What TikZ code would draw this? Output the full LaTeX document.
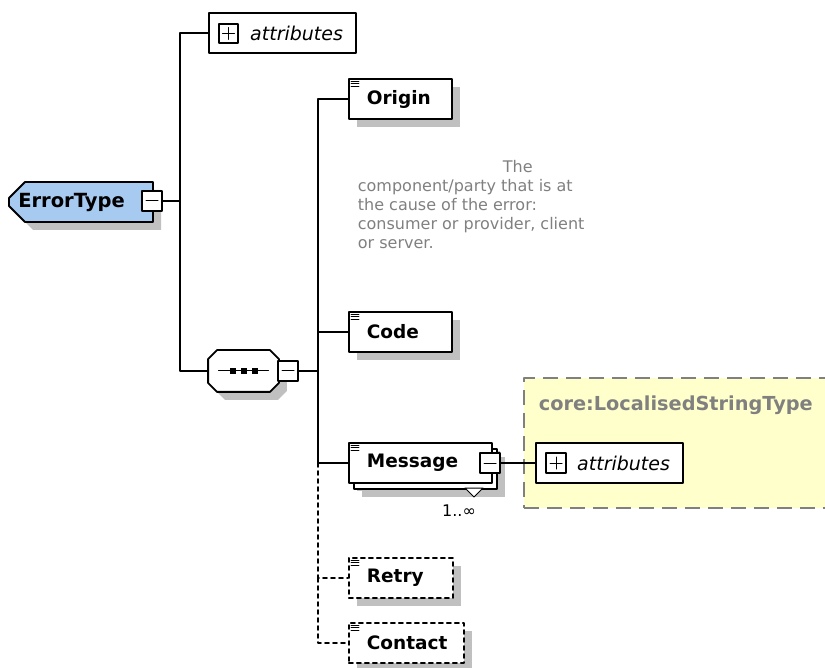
\documentclass[tikz,border=0pt]{standalone}
\usepackage{fontspec}
\setmainfont{DejaVu Sans}
\usetikzlibrary{shapes.misc,shadows}
\definecolor{typeblue}{RGB}{166,202,240}
\definecolor{shadegray}{RGB}{192,192,192}
\definecolor{noteyellow}{RGB}{255,255,204}
\definecolor{notegray}{RGB}{128,128,128}
\newcommand{\docmark}[1]{\draw [line width=0.8pt] ([shift={(3,3)}]#1.north west) -- ++(8,0) ([shift={(3,5.5)}]#1.north west) -- ++(8,0) ([shift={(3,8)}]#1.north west) -- ++(8,0);}

\begin{document}
\begin{tikzpicture}[line cap=round,line join=round,x=1pt,y=-1pt,line width=1.8pt,
	boxshadow/.style={drop shadow={shadow xshift=8pt,shadow yshift=-8pt,fill=shadegray,opacity=1}},
	elem/.style={draw,fill=white,boxshadow,anchor=west,minimum height=40pt,inner xsep=18pt,inner ysep=0pt,align=left,font=\fontsize{18.5}{22}\selectfont\bfseries},
	optelem/.style={elem,dash pattern=on 4pt off 4pt},
	attrbox/.style={draw,fill=white,minimum width=147pt,minimum height=40pt,inner xsep=13pt,inner ysep=0pt,text width=121pt,align=right,font=\fontsize{19}{22}\selectfont\itshape},
	minusbox/.style={draw,fill=white,minimum size=20pt,inner sep=0pt,path picture={\draw [line width=1pt] ([xshift=-6pt]path picture bounding box.center) -- ([xshift=6pt]path picture bounding box.center);}},
	plusbox/.style={minusbox,path picture={\draw [line width=1pt] ([xshift=-6pt]path picture bounding box.center) -- ([xshift=6pt]path picture bounding box.center) ([yshift=-6pt]path picture bounding box.center) -- ([yshift=6pt]path picture bounding box.center);}}]
	\useasboundingbox (0,0) rectangle (825,668);
	\node [draw=notegray,fill=noteyellow,dash pattern=on 15pt off 8pt,line cap=butt,minimum width=320pt,minimum height=130pt,anchor=north west,inner sep=0pt] (ctype) at (523,377) {};
	\node [anchor=west,inner sep=0pt,text=notegray,font=\fontsize{19.3}{22}\selectfont\bfseries] (ctitle) at (538,405) {core:LocalisedStringType};
	\node [chamfered rectangle,chamfered rectangle corners={north west,south west},chamfered rectangle sep=8pt,draw,fill=typeblue,boxshadow,minimum width=144pt,minimum height=40pt,inner sep=0pt,font=\fontsize{19.5}{22}\selectfont\bfseries] (errortype) at (81,202) {ErrorType\kern19pt};
	\node [minusbox] (etminus) at (152,201) {};
	\coordinate (hubA) at (180,201);
	\node [attrbox] (attrA) at (282.5,33) {attributes};
	\node [plusbox,minimum size=19pt] (attrAplus) at (228.5,33.5) {};
	\node [minimum width=69pt,minimum height=40pt,inner sep=0pt] (seq) at (243.5,371) {};
	\filldraw [fill=white,boxshadow] ([shift={(9,0)}]seq.north west) -- ([shift={(-9,0)}]seq.north east) -- ([shift={(0,9)}]seq.north east) -- ([shift={(0,-9)}]seq.south east)
		-- ([shift={(-9,0)}]seq.south east) -- ([shift={(9,0)}]seq.south west) -- ([shift={(0,-9)}]seq.south west) -- ([shift={(0,9)}]seq.north west) -- cycle;
	\draw [line width=1pt] ([shift={(-25,0)}]seq.center) -- ([shift={(25,0)}]seq.center);
	\foreach \dx in {-11,0,11}
		\fill [black] ([shift={(\dx-3,-3)}]seq.center) rectangle ++(6,6);
	\node [minusbox] (seqminus) at (288,371) {};
	\coordinate (hubB) at (318,371);
	\node [elem,text width=67pt] (origin) at (348,99) {Origin};
	\node [anchor=north west,inner sep=0pt,align=left,text=notegray,font=\fontsize{16}{19}\selectfont] (desc) at (357,159) {\hspace*{145pt}The\\component/party that is at\\the cause of the error:\\consumer or provider, client\\or server.};
	\node [elem,text width=67pt] (code) at (348,332) {Code};
	\node [elem,text width=107pt,drop shadow={shadow xshift=13pt,shadow yshift=-14pt,fill=shadegray,opacity=1},copy shadow={shadow xshift=5pt,shadow yshift=-6pt,draw,fill=white}] (message) at (348,463) {Message};
	\node [minusbox] (msgminus) at (490,463) {};
	\draw [fill=white,line width=1pt] (465,488) -- (483,488) -- (474,497) -- cycle;
	\node [inner sep=0pt,font=\fontsize{16}{19}\selectfont] (msgocc) at (459,511) {1..∞};
	\node [attrbox] (attrB) at (609.5,463) {attributes};
	\node [plusbox] (attrBplus) at (556,463) {};
	\node [optelem,text width=68pt] (retry) at (348,578) {Retry};
	\node [optelem,text width=79pt] (contact) at (348,643) {Contact};
	\docmark{origin}
	\docmark{code}
	\docmark{message}
	\docmark{retry}
	\docmark{contact}
	\draw (etminus.east) -- (hubA);
	\draw (attrA.west) -| (hubA) |- (seq.west);
	\draw (seqminus.east) -- (hubB);
	\draw (origin.west) -| (hubB) |- (message.west);
	\draw (hubB) |- (code.west);
	\draw [dash pattern=on 4pt off 4pt] (message.west -| hubB) |- (retry.west);
	\draw [dash pattern=on 4pt off 4pt] (retry.west -| hubB) |- (contact.west);
	\draw (msgminus.east) -- (attrB.west);
\end{tikzpicture}
\end{document}
